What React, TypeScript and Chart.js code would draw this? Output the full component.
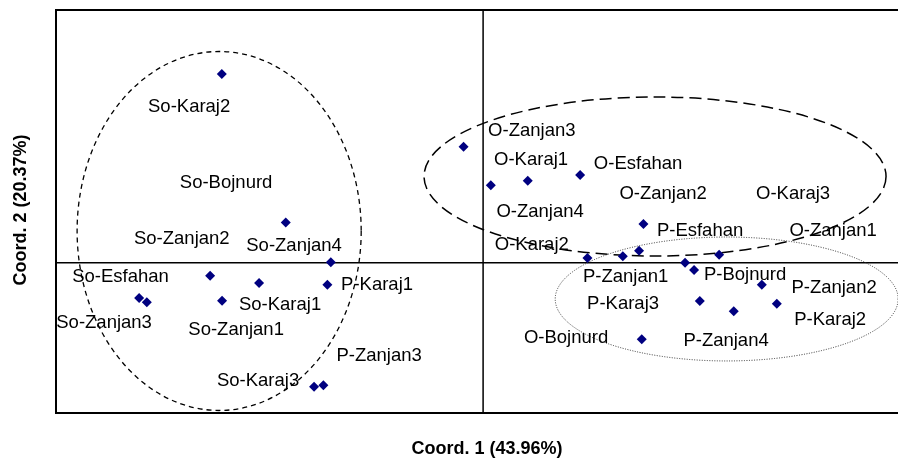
import { useEffect, useRef } from "react";
import { Chart, registerables } from "chart.js";

Chart.register(...registerables);

// Point coordinates (Coord. 1, Coord. 2)
const pointX = [
  -0.2141, -0.1617, -0.1248, -0.2237, -0.1836, -0.1276, -0.2819, -0.2756, -0.2139, -0.1385, -0.1309,
  -0.016, 0.0063, 0.0366, 0.0795, 0.1314, 0.1278, 0.1145, 0.0855, 0.1934, 0.1655, 0.1729, 0.2284,
  0.1776, 0.2407, 0.2054, 0.13,
];
const pointY = [
  0.2247, 0.0479, 0.0005, -0.0155, -0.0242, -0.0262, -0.042, -0.0472, -0.0453, -0.1477, -0.146,
  0.1382, 0.0922, 0.0977, 0.1045, 0.0461, 0.0143, 0.0076, 0.0056, 0.0095, 0.0, -0.0087, -0.0262,
  -0.0456, -0.0488, -0.0579, -0.0912,
];

// Sample labels and where they sit (label centre, in chart units)
const labelNames = [
  "So-Karaj2", "So-Bojnurd", "So-Zanjan2", "So-Zanjan4", "So-Esfahan", "P-Karaj1", "So-Karaj1",
  "So-Zanjan3", "So-Zanjan1", "P-Zanjan3", "So-Karaj3",
  "O-Zanjan3", "O-Karaj1", "O-Esfahan", "O-Zanjan2", "O-Karaj3", "O-Zanjan4", "P-Esfahan",
  "O-Zanjan1", "O-Karaj2", "P-Zanjan1", "P-Bojnurd", "P-Zanjan2", "P-Karaj3", "P-Karaj2",
  "O-Bojnurd", "P-Zanjan4",
];
const labelX = [
  -0.2409, -0.2106, -0.2469, -0.1549, -0.2971, -0.0869, -0.1664, -0.3106, -0.2024, -0.0852, -0.1844,
  0.0399, 0.0393, 0.127, 0.1475, 0.254, 0.0467, 0.1778, 0.2868, 0.0399, 0.1168, 0.2147, 0.2876,
  0.1147, 0.2844, 0.068, 0.1991,
];
const labelY = [
  0.1854, 0.0955, 0.0282, 0.0205, -0.017, -0.0266, -0.0498, -0.0718, -0.0796, -0.1111, -0.1409,
  0.1569, 0.1223, 0.1181, 0.0824, 0.0824, 0.0604, 0.0378, 0.0378, 0.0211, -0.017, -0.0141, -0.0301,
  -0.0486, -0.0682, -0.0897, -0.0927,
];

// Group ellipses (centre and radii in chart units)
const ellipseCX = [-0.2163, 0.1409, 0.1996];
const ellipseCY = [0.0378, 0.1027, -0.0432];
const ellipseRX = [0.1164, 0.1893, 0.1405];
const ellipseRY = [0.2138, 0.0947, 0.0738];
const ellipseDash = [[5, 4], [12, 6], [1, 1.5]];
const ellipseWidth = [1.3, 1.5, 1];
const ellipseColor = ["#000", "#000", "#333"];

const xTitle = "Coord. 1 (43.96%)";
const yTitle = "Coord. 2 (20.37%)";

const FONT = '"Liberation Sans", Arial, sans-serif';

const decorPlugin = {
  id: "decor",
  beforeDatasetsDraw(chart: any) {
    const { ctx, chartArea, scales } = chart;
    const xs = scales.x;
    const ys = scales.y;
    ctx.save();
    // frame (left, top, bottom)
    ctx.strokeStyle = "#000";
    ctx.lineWidth = 2;
    ctx.beginPath();
    ctx.moveTo(chartArea.right + 2, chartArea.top);
    ctx.lineTo(chartArea.left, chartArea.top);
    ctx.lineTo(chartArea.left, chartArea.bottom);
    ctx.lineTo(chartArea.right + 2, chartArea.bottom);
    ctx.stroke();
    // zero axes
    ctx.lineWidth = 1.5;
    const x0 = xs.getPixelForValue(0);
    const y0 = ys.getPixelForValue(0);
    ctx.beginPath();
    ctx.moveTo(x0, chartArea.top);
    ctx.lineTo(x0, chartArea.bottom);
    ctx.moveTo(chartArea.left, y0);
    ctx.lineTo(chartArea.right, y0);
    ctx.stroke();
    // ellipses
    for (let i = 0; i < ellipseCX.length; i++) {
      const cx = xs.getPixelForValue(ellipseCX[i]);
      const cy = ys.getPixelForValue(ellipseCY[i]);
      const rx = Math.abs(xs.getPixelForValue(ellipseCX[i] + ellipseRX[i]) - cx);
      const ry = Math.abs(ys.getPixelForValue(ellipseCY[i] + ellipseRY[i]) - cy);
      ctx.beginPath();
      ctx.setLineDash(ellipseDash[i]);
      ctx.lineWidth = ellipseWidth[i];
      ctx.strokeStyle = ellipseColor[i];
      ctx.ellipse(cx, cy, rx, ry, 0, 0, Math.PI * 2);
      ctx.stroke();
    }
    ctx.setLineDash([]);
    ctx.restore();
  },
  afterDatasetsDraw(chart: any) {
    const { ctx } = chart;
    const meta = chart.getDatasetMeta(1);
    ctx.save();
    ctx.fillStyle = "#000";
    ctx.font = `18.5px ${FONT}`;
    ctx.textAlign = "center";
    ctx.textBaseline = "middle";
    meta.data.forEach((el: any, i: number) => {
      ctx.fillText(labelNames[i], el.x, el.y);
    });
    // axis titles
    ctx.font = `bold 18px ${FONT}`;
    ctx.fillText(xTitle, 487, 449);
    ctx.translate(21, 210);
    ctx.rotate(-Math.PI / 2);
    ctx.fillText(yTitle, 0, 0);
    ctx.restore();
  },
};

export default function App() {
  const ref = useRef<HTMLCanvasElement | null>(null);
  useEffect(() => {
    if (!ref.current) return;
    const chart = new Chart(ref.current, {
      type: "scatter",
      data: {
        datasets: [
          {
            label: "Samples",
            data: pointX.map((x, i) => ({ x, y: pointY[i] })),
            pointStyle: "rectRot",
            pointRadius: 5,
            backgroundColor: "#000080",
            borderColor: "#000080",
            borderWidth: 0,
          },
          {
            label: "Labels",
            data: labelX.map((x, i) => ({ x, y: labelY[i] })),
            pointRadius: 0,
            borderWidth: 0,
          },
        ],
      },
      options: {
        responsive: false,
        animation: false,
        layout: { autoPadding: false, padding: { left: 56, top: 10, right: 0, bottom: 47 } },
        plugins: {
          legend: { display: false },
          tooltip: { enabled: false },
        },
        scales: {
          x: { type: "linear", min: -0.35, max: 0.34, display: false },
          y: { type: "linear", min: -0.179, max: 0.301, display: false },
        },
      },
      plugins: [decorPlugin],
    });
    return () => chart.destroy();
  }, []);
  return (
    <div style={{ position: "absolute", left: 0, top: 0, width: 898, height: 460, background: "#fff" }}>
      <canvas ref={ref} width={898} height={460} />
    </div>
  );
}
